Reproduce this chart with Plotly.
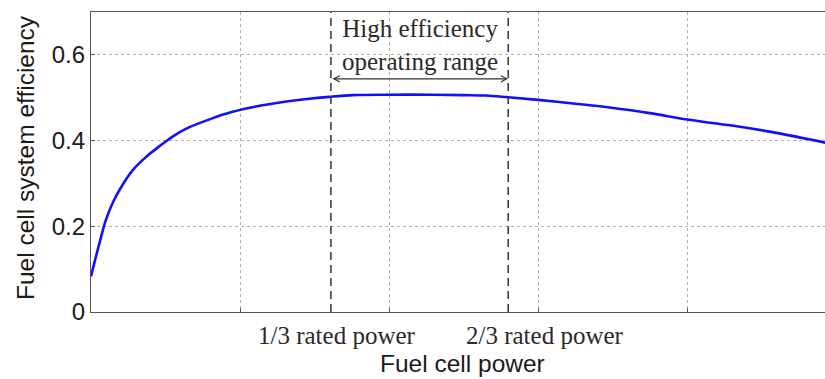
import plotly.graph_objects as go

# Data (x in relative power units; gridlines every 1 unit)
power = [0.0, 0.03, 0.06, 0.1, 0.15, 0.2, 0.28, 0.37, 0.46, 0.55, 0.64, 0.8, 0.95,
         1.1, 1.29, 1.45, 1.6, 1.76, 2.0, 2.3, 2.5, 2.65, 2.8, 3.0, 3.25, 3.48,
         3.75, 4.0, 4.3, 4.6, 4.93]
efficiency = [0.083, 0.125, 0.165, 0.215, 0.258, 0.29, 0.331, 0.362, 0.387, 0.41,
              0.428, 0.45, 0.467, 0.479, 0.49, 0.497, 0.502, 0.506, 0.507, 0.507,
              0.506, 0.505, 0.501, 0.495, 0.486, 0.477, 0.464, 0.449, 0.435, 0.418,
              0.395]
range_bounds = [1.61, 2.80]          # 1/3 and 2/3 rated power markers
range_label_x = [1.65, 3.05]
range_labels = ["1/3 rated power", "2/3 rated power"]
ytick_vals = [0, 0.2, 0.4, 0.6]
ytick_text = ["0", "0.2", "0.4", "0.6"]
xgrid_vals = [1, 2, 3, 4]

SANS = "Liberation Sans, Arial, sans-serif"
SERIF = "Liberation Serif, Times New Roman, serif"

fig = go.Figure()
fig.add_trace(go.Scatter(x=power, y=efficiency, mode="lines",
                         line=dict(color="#1010ff", width=2.6), line_shape="spline",
                         showlegend=False, hoverinfo="skip"))

for xb in range_bounds:
    fig.add_shape(type="line", x0=xb, x1=xb, y0=0, y1=0.7, xref="x", yref="y",
                  line=dict(color="#333333", width=1.5, dash="8px,5px"))

# double-headed arrow
fig.add_annotation(x=range_bounds[1], y=0.544, ax=range_bounds[0], ay=0.544,
                   xref="x", yref="y", axref="x", ayref="y", text="",
                   showarrow=True, arrowside="end+start", arrowhead=5,
                   arrowsize=1.0, arrowwidth=1.2, arrowcolor="#333333",
                   standoff=0, startstandoff=0)
fig.add_annotation(x=(range_bounds[0] + range_bounds[1]) / 2, y=0.624,
                   xref="x", yref="y", text="High efficiency<br>operating range",
                   showarrow=False, font=dict(family=SERIF, size=25, color="#2a2a2a"),
                   xanchor="center", yanchor="middle")

for lx, lt in zip(range_label_x, range_labels):
    fig.add_annotation(x=lx, y=-23 / 300, xref="x", yref="paper", text=lt,
                       showarrow=False, xanchor="center", yanchor="middle",
                       font=dict(family=SERIF, size=25, color="#2a2a2a"))

fig.add_annotation(x=(462 - 91) / 734, y=-(363 - 312) / 300, xref="paper", yref="paper",
                   text="Fuel cell power", showarrow=False, xanchor="center",
                   yanchor="middle", font=dict(family=SANS, size=24.5, color="#1a1a1a"))
fig.add_annotation(x=-(91 - 25) / 734, y=(312 - 158) / 300, xref="paper", yref="paper",
                   text="Fuel cell system efficiency", showarrow=False, textangle=-90,
                   xanchor="center", yanchor="middle",
                   font=dict(family=SANS, size=24.5, color="#1a1a1a"))

fig.update_layout(
    width=825, height=379,
    margin=dict(l=91, r=0, t=12, b=67),
    plot_bgcolor="white", paper_bgcolor="white",
    xaxis=dict(range=[0, 734 / 149], tickvals=xgrid_vals, ticktext=["", "", "", ""],
               showgrid=True, gridcolor="#b0b0b0", griddash="dot", gridwidth=1,
               showline=True, linecolor="#555555", linewidth=1.2, mirror=True,
               ticks="inside", ticklen=4, tickcolor="#555555", zeroline=False),
    yaxis=dict(range=[0, 0.7], tickvals=ytick_vals, ticktext=ytick_text,
               showgrid=True, gridcolor="#b0b0b0", griddash="dot", gridwidth=1,
               showline=True, linecolor="#555555", linewidth=1.2, mirror=False,
               ticks="inside", ticklen=4, tickcolor="#555555", zeroline=False,
               tickfont=dict(family=SANS, size=24, color="#1a1a1a"),
               ticklabelstandoff=0),
)

fig.write_html("out.html")
